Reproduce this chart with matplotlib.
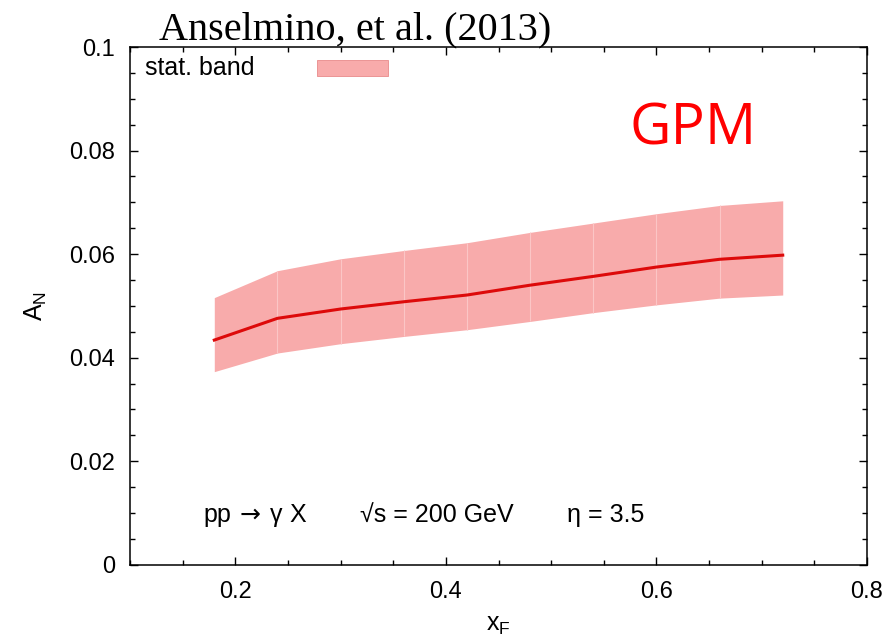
import matplotlib
matplotlib.use('Agg')
import matplotlib.pyplot as plt
from matplotlib.patches import Rectangle
from matplotlib.ticker import MultipleLocator

# valeurs (Anselmino et al. 2013)
xf = [0.18, 0.24, 0.30, 0.36, 0.42, 0.48, 0.54, 0.60, 0.66, 0.72]
an_central = [0.0434, 0.0476, 0.0494, 0.0508, 0.0521, 0.0540, 0.0557, 0.0575, 0.0590, 0.0598]
an_upper = [0.0516, 0.0568, 0.0591, 0.0607, 0.0622, 0.0642, 0.0660, 0.0678, 0.0694, 0.0703]
an_lower = [0.0373, 0.0409, 0.0427, 0.0441, 0.0454, 0.0470, 0.0487, 0.0502, 0.0515, 0.0521]

xticks = [0.2, 0.4, 0.6, 0.8]
yticks = [0, 0.02, 0.04, 0.06, 0.08, 0.1]

band_color = '#f8abab'
line_color = '#dd0a0a'

plt.rcParams['font.family'] = ['Liberation Sans', 'DejaVu Sans']

fig = plt.figure(figsize=(8.91, 6.44), dpi=100)
ax = fig.add_axes([0.146, 0.123, 0.827, 0.804])

ax.fill_between(xf, an_lower, an_upper, color=band_color, linewidth=0)
# petites lignes claires entre les segments de la bande
ax.vlines(xf[1:-1], an_lower[1:-1], an_upper[1:-1], color='#fbc6c6', linewidth=0.8)
ax.plot(xf, an_central, color=line_color, linewidth=2.2)

ax.set_xlim(0.1, 0.8)
ax.set_ylim(0, 0.1)
ax.set_xticks(xticks)
ax.set_xticklabels(['0.2', '0.4', '0.6', '0.8'])
ax.set_yticks(yticks)
ax.set_yticklabels(['0', '0.02', '0.04', '0.06', '0.08', '0.1'])
ax.xaxis.set_minor_locator(MultipleLocator(0.05))
ax.yaxis.set_minor_locator(MultipleLocator(0.005))
ax.tick_params(which='both', direction='in', top=True, right=True, labelsize=17, width=1)
ax.tick_params(which='major', length=6)
ax.tick_params(which='minor', length=3.6)
ax.tick_params(axis='x', which='major', pad=12)
ax.tick_params(axis='y', which='major', pad=11)
for s in ax.spines.values():
    s.set_linewidth(1.1)

ax.set_xlabel(r'x$_\mathregular{F}$', fontsize=18, labelpad=7)
ax.set_ylabel(r'A$_\mathregular{N}$', fontsize=18, labelpad=14)

# legende a la gnuplot : texte puis echantillon
ax.text(0.02, 0.959, 'stat. band', transform=ax.transAxes, fontsize=18, va='center')
ax.add_patch(Rectangle((0.254, 0.944), 0.096, 0.031, transform=ax.transAxes,
                       facecolor=band_color, edgecolor='#e88a8a', linewidth=0.6))

ax.text(0.099, 0.083, 'pp$\\,\\rightarrow\\,$\u03b3 X', transform=ax.transAxes, fontsize=18)
ax.text(0.312, 0.083, '\u221as = 200 GeV', transform=ax.transAxes, fontsize=18)
ax.text(0.593, 0.083, '\u03b7 = 3.5', transform=ax.transAxes, fontsize=18)

ax.text(0.764, 0.811, 'GPM', transform=ax.transAxes, fontsize=41, color='#ff0000',
        family=['Open Sans', 'DejaVu Sans'], ha='center')

fig.text(0.178, 0.939, 'Anselmino, et al. (2013)', fontsize=29,
         family=['Liberation Serif', 'DejaVu Serif'])

plt.savefig('out.png', dpi=100)
